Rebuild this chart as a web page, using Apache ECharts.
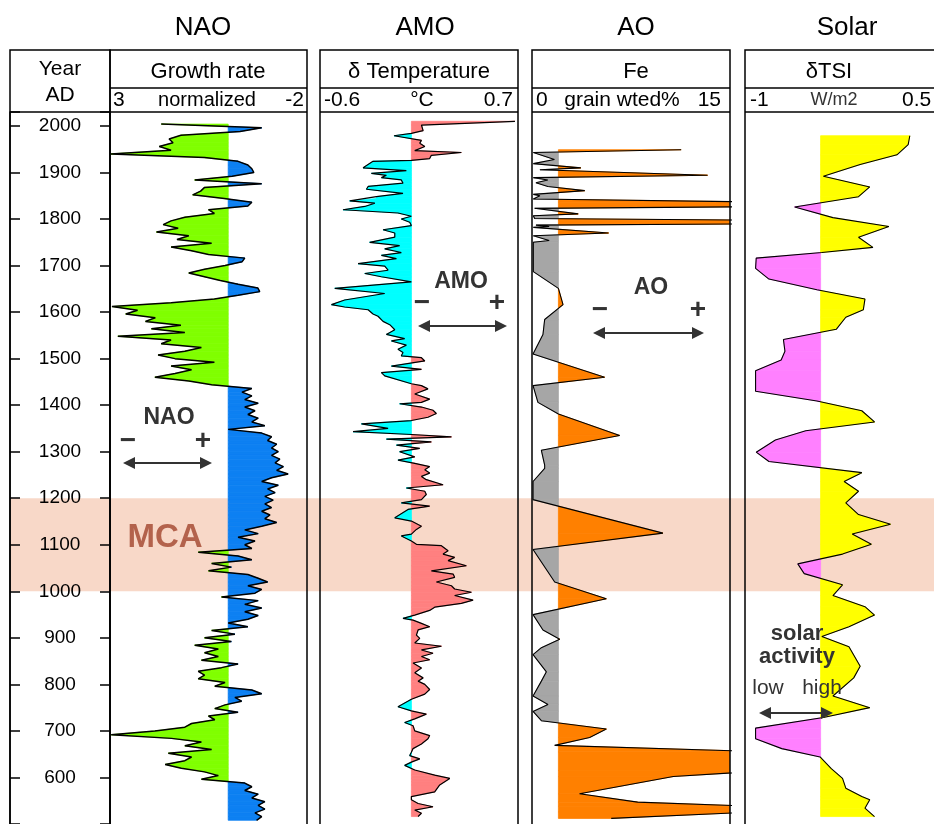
<!DOCTYPE html>
<html>
<head>
<meta charset="utf-8">
<script src="https://cdn.jsdelivr.net/npm/echarts@6/dist/echarts.min.js"></script>
<style>
  html, body { margin: 0; padding: 0; background: #fff; }
  #chart { width: 934px; height: 824px; }
</style>
</head>
<body>
<div id="chart"></div>
<script>
// ---- data ----
var mcaYears = [1000, 1200];

// NAO growth rate, normalized (8-yr samples)
var naoYear = [
  2004,1996,1988,1980,1972,1964,1956,1948,1940,1932,
  1924,1916,1908,1900,1892,1884,1876,1868,1860,1852,
  1844,1836,1828,1820,1812,1804,1796,1788,1780,1772,
  1764,1756,1748,1740,1732,1724,1716,1708,1700,1692,
  1684,1676,1668,1660,1652,1644,1636,1628,1620,1612,
  1604,1596,1588,1580,1572,1564,1556,1548,1540,1532,
  1524,1516,1508,1500,1492,1484,1476,1468,1460,1452,
  1444,1436,1428,1420,1412,1404,1396,1388,1380,1372,
  1364,1356,1348,1340,1332,1324,1316,1308,1300,1292,
  1284,1276,1268,1260,1252,1244,1236,1228,1220,1212,
  1204,1196,1188,1180,1172,1164,1156,1148,1140,1132,
  1124,1116,1108,1100,1092,1084,1076,1068,1060,1052,
  1044,1036,1028,1020,1012,1004,996,988,980,972,
  964,956,948,940,932,924,916,908,900,892,
  884,876,868,860,852,844,836,828,820,812,
  804,796,788,780,772,764,756,748,740,732,
  724,716,708,700,692,684,676,668,660,652,
  644,636,628,620,612,604,596,588,580,572,
  564,556,548,540,532,524,516,508
];
var naoVal = [
  1.7,-0.85,-0.3,1.2,1.5,1.4,1.75,1.45,2.98,0.6,
  -0.25,-0.5,-0.6,-0.65,-0.1,0.85,-0.85,0.6,0.7,0.9,
  0.1,-0.6,-0.5,0.5,0.35,1.1,1.45,1.65,1.27,1.82,
  1.0,1.3,0.42,1.45,0.93,0.5,-0.42,-0.35,0.08,0.6,
  1.0,0.6,0.2,-0.25,-0.75,-0.8,-0.25,0.35,1.45,2.95,
  2.3,2.6,1.85,2.1,1.2,1.95,1.1,2.8,1.45,1.7,
  0.68,1.1,1.78,1.35,0.35,1.45,0.93,1.35,1.86,1.0,
  0.42,-0.6,-0.35,-0.6,-0.42,-0.76,-0.42,-0.68,-0.5,-0.76,
  -0.6,-0.93,0,-0.85,-1.1,-1.0,-1.23,-1.1,-1.27,-1.1,
  -1.31,-1.19,-1.4,-1.23,-1.52,-1.1,-0.85,-1.27,-1.0,-1.19,
  -0.93,-1.14,-0.93,-1.1,-0.85,-1.06,-0.93,-1.23,-0.85,-0.42,
  -0.76,-0.25,-0.68,-0.42,-0.6,0.76,-0.25,-0.6,0.42,-0.08,
  0.5,-0.5,-0.76,-1.0,-0.5,-0.85,-0.68,0.17,-0.76,-0.42,
  -0.85,-0.42,-0.76,-0.5,0,-0.5,0.42,-0.17,0.6,-0.08,
  0.85,0.25,0.6,0.25,0.68,-0.25,0.17,0.76,0.6,0.76,
  0.08,0.34,-0.6,-0.85,-0.17,-0.34,0.08,0.34,-0.25,0.5,
  0.34,0.93,1.1,1.86,2.97,1.44,0.68,1.1,0.42,1.52,
  0.93,1.1,1.6,1.19,0.6,0.25,0.68,-0.42,-0.6,-0.42,
  -0.76,-0.6,-0.93,-0.76,-0.93,-0.68,-0.85,-0.72
];

// AMO delta temperature (degC)
var amoYear = [
  2010,2002,1990,1984,1979,1969,1963,1956,1947,1943,1937,1930,1926,1924,1910,1904,1898,1894,1889,1884,
  1877,1870,1864,1855,1848,1844,1839,1834,1827,1820,1813,1806,1800,1793,1786,1777,1770,1761,1750,1743,
  1736,1728,1722,1715,1704,1699,1690,1683,1676,1665,1651,1640,1626,1616,1611,1605,1596,1591,1580,1573,
  1562,1552,1543,1538,1529,1520,1513,1506,1502,1495,1484,1477,1470,1463,1446,1442,1435,1424,1413,1406,
  1403,1396,1389,1382,1374,1367,1360,1350,1343,1337,1332,1327,1321,1314,1307,1300,1289,1282,1275,1268,
  1261,1254,1247,1240,1229,1222,1215,1208,1197,1190,1183,1176,1158,1151,1140,1133,1123,1119,1108,1101,
  1098,1087,1080,1073,1066,1055,1044,1037,1030,1020,1012,1005,998,991,981,974,966,959,949,942,
  938,931,924,917,906,899,889,882,874,867,860,853,846,835,825,814,807,800,789,779,
  768,752,743,736,726,718,711,700,690,683,672,662,654,647,640,633,626,616,605,598,
  591,584,569,559,552,544,537,530,523,516
];
var amoVal = [
  0.68,0.066,0.077,0,-0.114,0.066,0.055,0.088,0.022,0.328,0.131,0.12,0,-0.252,-0.317,-0.033,-0.263,-0.164,-0.197,-0.066,
  -0.055,-0.284,-0.295,-0.055,-0.23,-0.23,-0.405,-0.24,-0.306,-0.449,-0.088,0,-0.066,-0.011,0,-0.186,-0.109,-0.109,-0.274,-0.077,
  -0.175,-0.066,-0.197,-0.098,-0.35,-0.175,-0.153,-0.306,-0.197,0,-0.503,-0.175,-0.438,-0.525,-0.438,-0.284,-0.252,-0.219,-0.186,-0.142,
  -0.109,-0.164,-0.044,-0.131,-0.033,-0.088,-0.055,-0.066,0.066,0.088,-0.131,0.066,-0.197,-0.175,0,0.066,0.109,0.022,0.12,0.066,
  -0.077,0.066,0.142,0.164,0.109,0,-0.328,-0.153,-0.383,0,0.263,-0.164,0.131,-0.098,0.055,-0.077,0.022,-0.088,0.022,0.12,
  0.088,0.12,0.066,0.098,0.208,-0.033,0.088,0.098,0.066,-0.066,0.12,-0.022,-0.109,0,0.066,0.033,0,-0.066,0,0.033,
  0.197,0.241,0.208,0.284,0.241,0.361,0.131,0.274,0.284,0.164,0.263,0.284,0.394,0.284,0.405,0.328,0.153,0.12,0.022,-0.055,
  0.011,0.066,0.12,0.044,0.033,0.055,0.022,0.197,0.066,0.142,0.066,0.12,0.011,0.066,0.022,0.077,0.044,0.088,0.12,0.088,
  0,-0.088,0,0.098,0.022,-0.044,0.011,0.022,0.12,0.109,0.066,0.011,0,-0.011,0.055,0,-0.044,0.022,0.153,0.252,
  0.219,0.186,0.153,0,0,0.044,0.142,0.022,0.066,0.044
];

// AO: Fe grain weighted %
var aoYear = [
  1949,1943,1928,1919,1910,1906,1894,1889,1884,1878,1870,1861,1853,1850,1843,1836,1827,1823,1811,1807,
  1801,1797,1790,1787,1784,1782,1770,1764,1754,1750,1687,1651,1616,1584,1552,1510,1460,1442,1406,1381,
  1335,1303,1271,1264,1236,1197,1125,1090,1020,984,950,917,897,879,864,827,807,775,757,742,
  722,704,686,669,655,615,602,565,547,538,526,512
];
var aoVal = [
  11.3,0.1,1.7,0.1,3.7,0.6,13.3,0.1,1.2,0.3,1.2,4.0,0.1,0.6,0.1,19,19,0.2,3.5,0.1,
  0.2,19,19,0.3,1.3,0.1,5.8,0.1,1.3,0.1,0.1,2.0,2.35,0.96,0.83,0.08,5.5,0.08,0.45,2.0,
  6.64,0.71,0.96,0.96,0.08,0.08,9.92,0.08,1.72,5.63,0.08,0.83,2.1,0.71,0.08,1.09,0.71,0.08,1.21,0.08,
  0.71,5.63,4.37,1.72,18,18,10.7,3.6,8.0,17,17,6
];

// Solar: delta TSI (W/m2)
var tsiYear = [
  1979,1960,1938,1917,1892,1869,1848,1826,1803,1784,1761,1739,1728,1716,1694,1671,1648,1628,1605,1589,
  1563,1541,1516,1497,1474,1430,1409,1388,1364,1345,1325,1299,1279,1255,1236,1215,1190,1165,1144,1123,
  1101,1080,1059,1038,1014,991,967,949,924,903,881,839,814,775,750,729,706,683,662,644,
  619,598,577,559,552,534,516
];
var tsiVal = [
  0.308,0.295,0.206,-0.086,-0.378,-0.01,-0.099,-0.606,-0.302,0.142,-0.099,0.015,-0.39,-0.911,-0.916,-0.81,-0.429,-0.048,-0.061,-0.2,
  -0.276,-0.695,-0.683,-0.713,-0.916,-0.916,-0.429,-0.073,0.028,-0.518,-0.759,-0.911,-0.81,-0.073,-0.213,-0.099,-0.2,-0.099,0.155,-0.149,
  0.003,-0.226,-0.581,-0.53,-0.226,-0.302,-0.048,0.028,-0.175,-0.39,-0.175,-0.086,-0.137,-0.302,-0.01,-0.378,-0.916,-0.916,-0.708,-0.404,
  -0.315,-0.226,-0.2,-0.073,-0.01,-0.048,0.028
];

// ---- layout ----
var FONT = "'Liberation Sans', Arial, Helvetica, sans-serif";
var Y_MIN = 500, Y_MAX = 2030;
var TOP = 112, H = 719;

var panels = [
  { left: 110, width: 197, min: -2, max: 3, inverse: true, base: 0, hi: '#80FF00', lo: '#0D80F2', lw: 1.5, year: naoYear, val: naoVal },
  { left: 320, width: 198, min: -0.6, max: 0.7, inverse: false, base: 0, hi: '#FF8080', lo: '#00FFFF', lw: 1.2, year: amoYear, val: amoVal },
  { left: 532, width: 198, min: 0, max: 15, inverse: false, base: 2, hi: '#FF8000', lo: '#A6A6A6', lw: 1.1, year: aoYear, val: aoVal },
  { left: 745, width: 197, min: -1, max: 0.5, inverse: false, base: -0.4, hi: '#FFFF00', lo: '#FF80FF', lw: 1.1, year: tsiYear, val: tsiVal }
];

var chart = echarts.init(document.getElementById('chart'));

//填充：线与基线之间按正负上色
function makeFill(base, colLo, colHi) {
  return function (params, api) {
    var y1 = api.value(0), v1 = api.value(1), y2 = api.value(2), v2 = api.value(3);
    var kids = [];
    function poly(pts, col) {
      kids.push({
        type: 'polygon',
        shape: { points: pts.map(function (p) { return api.coord(p); }) },
        style: { fill: col, stroke: col, lineWidth: 0.8 }
      });
    }
    var d1 = v1 - base, d2 = v2 - base;
    if (d1 * d2 >= 0) {
      poly([[v1, y1], [v2, y2], [base, y2], [base, y1]], (d1 + d2) >= 0 ? colHi : colLo);
    } else {
      var t = d1 / (d1 - d2), yc = y1 + t * (y2 - y1);
      poly([[v1, y1], [base, yc], [base, y1]], d1 > 0 ? colHi : colLo);
      poly([[base, yc], [v2, y2], [base, y2]], d2 > 0 ? colHi : colLo);
    }
    return { type: 'group', children: kids };
  };
}

var grids = [{ left: 10, width: 100, top: TOP, height: H }];
var xAxes = [{ gridIndex: 0, type: 'value', min: 0, max: 1, show: false }];
var yAxes = [{
  gridIndex: 0, type: 'value', min: Y_MIN, max: Y_MAX, interval: 100, position: 'left', z: 5,
  axisLine: { show: true, lineStyle: { color: '#000', width: 1.5 } },
  axisTick: { show: true, inside: true, length: 10, lineStyle: { color: '#000', width: 1.5 } },
  axisLabel: {
    inside: true, margin: 50, align: 'center', fontSize: 19, color: '#000', fontFamily: FONT,
    formatter: function (v) { return (v >= 600 && v <= 2000 && v % 100 === 0) ? String(v) : ''; }
  },
  splitLine: { show: false }
}];
var series = [];

panels.forEach(function (p, i) {
  var gi = i + 1;
  grids.push({ left: p.left, width: p.width, top: TOP, height: H });
  xAxes.push({ gridIndex: gi, type: 'value', min: p.min, max: p.max, inverse: p.inverse, show: false });
  yAxes.push({ gridIndex: gi, type: 'value', min: Y_MIN, max: Y_MAX, show: false });
  var segs = [];
  for (var k = 0; k < p.year.length - 1; k++) {
    segs.push([p.year[k], p.val[k], p.year[k + 1], p.val[k + 1]]);
  }
  series.push({
    type: 'custom', xAxisIndex: gi, yAxisIndex: gi, clip: true, silent: true, z: 2,
    dimensions: ['y1', 'v1', 'y2', 'v2'],
    encode: { x: [1, 3], y: [0, 2] },
    renderItem: makeFill(p.base, p.lo, p.hi),
    data: segs
  });
  series.push({
    type: 'line', xAxisIndex: gi, yAxisIndex: gi, clip: true, silent: true, z: 3,
    symbol: 'none',
    lineStyle: { color: '#000', width: p.lw },
    data: p.year.map(function (y, k) { return [p.val[k], y]; })
  });
});

// right-hand ticks of the year column
yAxes.push({
  gridIndex: 0, type: 'value', min: Y_MIN, max: Y_MAX, interval: 100, position: 'right', z: 5,
  axisLine: { show: true, lineStyle: { color: '#000', width: 1.5 } },
  axisTick: { show: true, inside: true, length: 10, lineStyle: { color: '#000', width: 1.5 } },
  axisLabel: { show: false },
  splitLine: { show: false }
});

chart.setOption({
  animation: false,
  backgroundColor: '#fff',
  grid: grids,
  xAxis: xAxes,
  yAxis: yAxes,
  series: series
});

// ---- decorations ----
function txt(x, y, s, size, o) {
  o = o || {};
  var align = o.align || 'center';
  return {
    type: 'text', z: 60,
    style: {
      text: s, x: x, y: y,
      font: (o.bold ? 'bold ' : '') + size + 'px ' + FONT,
      fill: o.color || '#000',
      align: align, verticalAlign: 'middle',
      textAlign: align, textVerticalAlign: 'middle'
    }
  };
}
function arrow(xa, xb, y) {
  var c = '#333';
  return [
    { type: 'line', z: 60, shape: { x1: xa + 6, y1: y, x2: xb - 6, y2: y }, style: { stroke: c, lineWidth: 2 } },
    { type: 'polygon', z: 60, shape: { points: [[xa, y], [xa + 12, y - 6], [xa + 12, y + 6]] }, style: { fill: c } },
    { type: 'polygon', z: 60, shape: { points: [[xb, y], [xb - 12, y - 6], [xb - 12, y + 6]] }, style: { fill: c } }
  ];
}
function box(x, w) {
  return { type: 'rect', z: 50, shape: { x: x, y: 50, width: w, height: 900 }, style: { fill: 'none', stroke: '#000', lineWidth: 1.5 } };
}
function hline(x1, x2, y) {
  return { type: 'line', z: 50, shape: { x1: x1, y1: y, x2: x2, y2: y }, style: { stroke: '#000', lineWidth: 1.5 } };
}

var yHi = chart.convertToPixel({ yAxisIndex: 0 }, mcaYears[1]);
var yLo = chart.convertToPixel({ yAxisIndex: 0 }, mcaYears[0]);

var els = [
  { type: 'rect', z: -10, shape: { x: 10, y: yHi, width: 930, height: yLo - yHi }, style: { fill: '#F8D8C8' } },
  box(10, 100), box(110, 197), box(320, 198), box(532, 198), box(745, 197),
  hline(110, 307, 88), hline(320, 518, 88), hline(532, 730, 88), hline(745, 942, 88),
  hline(10, 307, 112), hline(320, 518, 112), hline(532, 730, 112), hline(745, 942, 112),

  txt(203, 28, 'NAO', 26), txt(425, 28, 'AMO', 26), txt(636, 28, 'AO', 26), txt(847, 28, 'Solar', 26),
  txt(60, 69, 'Year', 21), txt(60, 95, 'AD', 21),
  txt(208, 72, 'Growth rate', 22), txt(419, 72, 'δ Temperature', 22), txt(636, 72, 'Fe', 22), txt(829, 72, 'δTSI', 22),
  txt(113, 100, '3', 21, { align: 'left' }), txt(207, 100, 'normalized', 20), txt(304, 100, '-2', 21, { align: 'right' }),
  txt(324, 100, '-0.6', 21, { align: 'left' }), txt(422, 100, '°C', 21), txt(513, 100, '0.7', 21, { align: 'right' }),
  txt(536, 100, '0', 21, { align: 'left' }), txt(622, 100, 'grain wted%', 21), txt(721, 100, '15', 21, { align: 'right' }),
  txt(750, 100, '-1', 21, { align: 'left' }), txt(834, 100, 'W/m2', 18, { color: '#333' }), txt(902, 100, '0.5', 21, { align: 'left' }),

  txt(165, 538, 'MCA', 33, { bold: true, color: '#B3624C' }),
  txt(169, 418, 'NAO', 23, { bold: true, color: '#333' }),
  txt(128, 441, '−', 28, { bold: true, color: '#333' }), txt(203, 441, '+', 28, { bold: true, color: '#333' }),
  txt(461, 282, 'AMO', 23, { bold: true, color: '#333' }),
  txt(422, 303, '−', 28, { bold: true, color: '#333' }), txt(497, 303, '+', 28, { bold: true, color: '#333' }),
  txt(651, 288, 'AO', 23, { bold: true, color: '#333' }),
  txt(600, 310, '−', 28, { bold: true, color: '#333' }), txt(698, 310, '+', 28, { bold: true, color: '#333' }),
  txt(797, 634, 'solar', 22, { bold: true, color: '#333' }),
  txt(797, 657, 'activity', 22, { bold: true, color: '#333' }),
  txt(768, 688, 'low', 21, { color: '#333' }), txt(822, 688, 'high', 21, { color: '#333' })
];
els = els.concat(arrow(123, 212, 463), arrow(418, 507, 326), arrow(593, 704, 333), arrow(759, 833, 713));

chart.setOption({ graphic: { elements: els } });
</script>
</body>
</html>
